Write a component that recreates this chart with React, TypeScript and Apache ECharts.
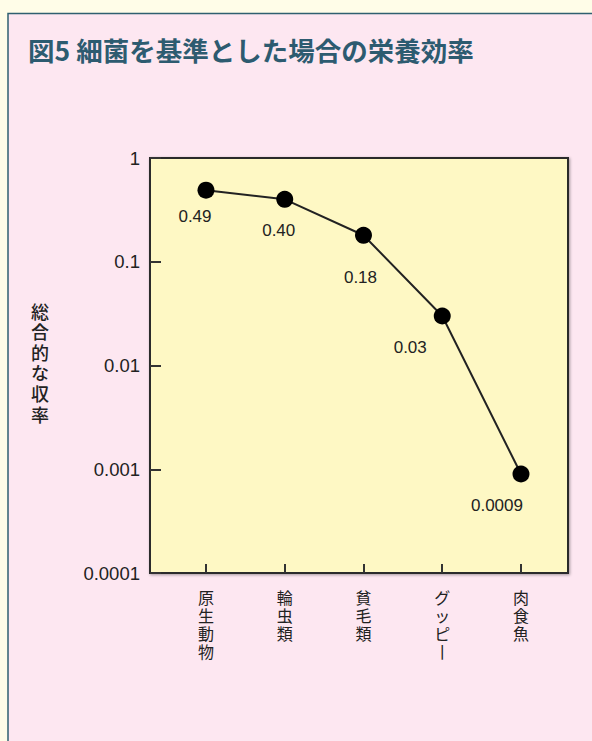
import React, { useEffect, useRef } from "react";
import * as echarts from "echarts";

const TITLE = "図5 細菌を基準とした場合の栄養効率";
const Y_NAME = "総合的な収率";
const CATEGORIES = ["原生動物", "輪虫類", "貧毛類", "グッピー", "肉食魚"];
const VALUES = [0.49, 0.4, 0.18, 0.03, 0.0009];
const VALUE_LABELS = ["0.49", "0.40", "0.18", "0.03", "0.0009"];
const Y_TICKS = [1, 0.1, 0.01, 0.001, 0.0001];
const Y_TICK_LABELS = ["1", "0.1", "0.01", "0.001", "0.0001"];

// label placement (styling, not data)
const LABEL_OFFSETS: [number, number][] = [
  [-11, 26],
  [-6, 31],
  [-3, 42],
  [-32, 32],
  [-24, 32],
];

const LATIN = "'Liberation Sans', 'Noto Sans CJK JP', sans-serif";
const CJK = "'Noto Sans CJK JP', 'Liberation Sans', sans-serif";

function formatTick(v: number): string {
  for (let i = 0; i < Y_TICKS.length; i++) {
    if (Math.abs(Math.log10(Y_TICKS[i]) - Math.log10(v)) < 0.01) return Y_TICK_LABELS[i];
  }
  return "";
}

export default function App() {
  const ref = useRef<HTMLDivElement>(null);
  useEffect(() => {
    document.body.style.margin = "0";
    const chart = echarts.init(ref.current!, null, { renderer: "svg" });
    const idx = CATEGORIES.map((_, i) => i);
    chart.setOption({
      animation: false,
      backgroundColor: "#fffde8",
      grid: {
        left: 150,
        top: 158,
        width: 418,
        height: 415,
        show: true,
        backgroundColor: "#fef8c4",
        borderColor: "#2b2b2b",
        borderWidth: 2,
        shadowBlur: 3,
        shadowColor: "rgba(0,0,0,0.35)",
        shadowOffsetX: 1,
        shadowOffsetY: 1,
      },
      graphic: [
        {
          type: "rect",
          z: -10,
          shape: { x: 8, y: 13.5, width: 600, height: 760 },
          style: { fill: "#fde7f1", stroke: "#2f6070", lineWidth: 1.5 },
        },
        {
          type: "text",
          x: 28,
          y: 49,
          style: {
            text: TITLE,
            font: `bold 26.5px ${CJK}`,
            fill: "#2d5b70",
            textVerticalAlign: "middle",
          },
        },
        {
          type: "text",
          x: 40,
          y: 362,
          style: {
            text: Y_NAME.split("").join("\n"),
            font: `500 18px ${CJK}`,
            lineHeight: 20.6,
            fill: "#222",
            align: "center",
            verticalAlign: "middle",
          },
        },
      ],
      xAxis: {
        type: "value",
        min: -0.711,
        max: 4.597,
        splitLine: { show: false },
        axisLine: { show: true, onZero: false, lineStyle: { color: "#2b2b2b", width: 2 } },
        axisTick: {
          show: true,
          inside: true,
          length: 9,
          customValues: idx,
          lineStyle: { color: "#333", width: 2 },
        },
        axisLabel: {
          show: true,
          customValues: idx,
          margin: 15,
          verticalAlign: "top",
          fontFamily: CJK,
          fontSize: 16,
          lineHeight: 18,
          color: "#222",
          formatter: (v: number) => {
            const c = CATEGORIES[Math.round(v)] ?? "";
            return c.replace(/ー/g, "丨").split("").join("\n");
          },
        },
      },
      yAxis: {
        type: "log",
        logBase: 10,
        min: 0.0001,
        max: 1,
        splitLine: { show: false },
        axisLine: { show: true, onZero: false, lineStyle: { color: "#2b2b2b", width: 2 } },
        axisTick: {
          show: true,
          inside: true,
          length: 11,
          lineStyle: { color: "#333", width: 2 },
        },
        axisLabel: {
          margin: 10,
          fontFamily: LATIN,
          fontSize: 18.5,
          color: "#222",
          formatter: (v: number) => formatTick(v),
        },
      },
      series: [
        {
          type: "line",
          symbol: "circle",
          symbolSize: 17,
          itemStyle: { color: "#000" },
          lineStyle: { color: "#222", width: 2 },
          data: VALUES.map((v, i) => ({
            value: [i, v],
            label: {
              show: true,
              position: "inside",
              offset: LABEL_OFFSETS[i],
              formatter: VALUE_LABELS[i],
              fontFamily: LATIN,
              fontSize: 17,
              color: "#222",
              align: "center",
              verticalAlign: "middle",
            },
          })),
        },
      ],
    });
    return () => chart.dispose();
  }, []);
  return <div ref={ref} style={{ width: 592, height: 741 }} />;
}
